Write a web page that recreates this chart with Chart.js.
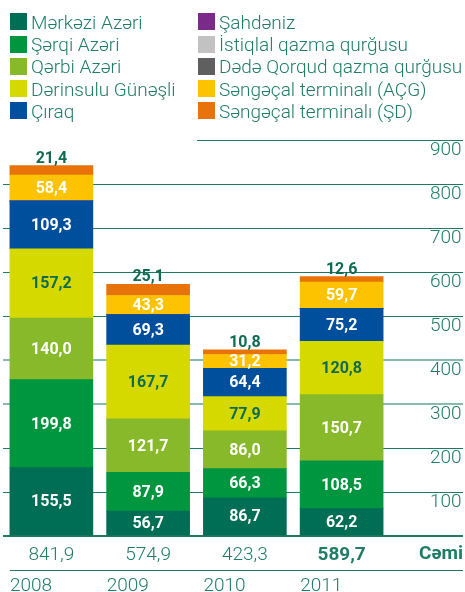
<!DOCTYPE html>
<html lang="az">
<head>
<meta charset="UTF-8">
<title>Hasilat</title>
<script src="https://cdn.jsdelivr.net/npm/chart.js"></script>
<style>
  body { margin: 0; background: #ffffff; }
  .wrap { position: relative; width: 465px; height: 592px; overflow: hidden; }
  canvas { position: absolute; left: 0; top: 0; }
  #legend {
      position: absolute;
      left: 10px;
      top: 11.8px;
      display: grid;
      grid-template-columns: 188px auto;
      grid-template-rows: repeat(5, 22.3px);
      grid-auto-flow: column;
      font-family: 'Roboto', sans-serif;
      font-weight: 300;
      font-size: 19px;
      line-height: 22px;
      color: #1f7d65;
      white-space: nowrap;
  }
  .item { display: flex; align-items: flex-start; }
  .box { width: 17px; height: 17px; margin-top: 1.5px; margin-right: 4px; flex: none; }
</style>
</head>
<body>
<div class="wrap">
  <canvas id="chart" width="465" height="592"></canvas>
  <div id="legend"></div>
</div>
<script>
// illər və cəmi
const categories = ['2008', '2009', '2010', '2011'];
const totals = ['841,9', '574,9', '423,3', '589,7'];
const totalTitle = 'Cəmi';
const yTicks = [0, 100, 200, 300, 400, 500, 600, 700, 800, 900];

// seriyalar (aşağıdan yuxarı)
const seriesNames = [
  'Mərkəzi Azəri', 'Şərqi Azəri', 'Qərbi Azəri', 'Dərinsulu Günəşli', 'Çıraq',
  'Şahdəniz', 'İstiqlal qazma qurğusu', 'Dədə Qorqud qazma qurğusu',
  'Səngəçal terminalı (AÇG)', 'Səngəçal terminalı (ŞD)'
];
const merkeziAzeri = [155.5, 56.7, 86.7, 62.2];
const serqiAzeri = [199.8, 87.9, 66.3, 108.5];
const qerbiAzeri = [140.0, 121.7, 86.0, 150.7];
const derinsuluGunesli = [157.2, 167.7, 77.9, 120.8];
const ciraq = [109.3, 69.3, 64.4, 75.2];
const sahdeniz = [0, 0, 0, 0];
const istiqlal = [0, 0, 0, 0];
const dedeQorqud = [0, 0, 0, 0];
const sengecalAcg = [58.4, 43.3, 31.2, 59.7];
const sengecalSd = [21.4, 25.1, 10.8, 12.6];

const teal = '#1f7d65';
const darkTeal = '#0e6b52';
const colors = ['#006e54', '#00963f', '#87b92a', '#d5d900', '#004f9c',
                '#7a2a88', '#c2c2c2', '#5f5f5f', '#fdc300', '#e8730a'];
const labelColors = ['#fff', '#fff', '#fff', darkTeal, '#fff', '#fff', '#333', '#fff', '#fff', darkTeal];
const values = [merkeziAzeri, serqiAzeri, qerbiAzeri, derinsuluGunesli, ciraq,
                sahdeniz, istiqlal, dedeQorqud, sengecalAcg, sengecalSd];

const fmt = v => v.toFixed(1).replace('.', ',');

// qiymət yazıları
const valueLabels = {
  id: 'valueLabels',
  afterDatasetsDraw(chart) {
    const ctx = chart.ctx;
    const last = chart.data.datasets.length - 1;
    ctx.save();
    ctx.font = '700 16px Roboto, sans-serif';
    ctx.textAlign = 'center';
    ctx.textBaseline = 'middle';
    chart.data.datasets.forEach((ds, di) => {
      chart.getDatasetMeta(di).data.forEach((bar, i) => {
        const v = ds.data[i];
        if (!v) return;
        let y;
        if (di === last) {
          y = bar.y - 7;
          ctx.fillStyle = darkTeal;
        } else {
          y = (bar.y + bar.base) / 2 + 1;
          ctx.fillStyle = labelColors[di];
        }
        ctx.fillText(fmt(v), bar.x, y);
      });
    });
    ctx.restore();
  }
};

// 900 xətti, cəmi və illər
const extras = {
  id: 'extras',
  beforeDatasetsDraw(chart) {
    const ctx = chart.ctx;
    const y = Math.round(chart.scales.y.getPixelForValue(900)) + 0.5;
    ctx.save();
    ctx.strokeStyle = '#1b7a61';
    ctx.lineWidth = 1;
    ctx.beginPath();
    ctx.moveTo(197, y);
    ctx.lineTo(463, y);
    ctx.stroke();
    ctx.restore();
  },
  afterDraw(chart) {
    const ctx = chart.ctx;
    const xs = chart.scales.x;
    const bars = chart.getDatasetMeta(0).data;
    ctx.save();
    ctx.fillStyle = teal;
    ctx.textBaseline = 'middle';
    ctx.textAlign = 'center';
    totals.forEach((t, i) => {
      ctx.font = (i === totals.length - 1 ? '700' : '300') + ' 19px Roboto, sans-serif';
      ctx.fillText(t, xs.getPixelForValue(i), 555);
    });
    ctx.font = '700 19px Roboto, sans-serif';
    ctx.textAlign = 'right';
    ctx.fillText(totalTitle, 463, 554);

    ctx.strokeStyle = '#1b7a61';
    ctx.lineWidth = 1;
    ctx.beginPath();
    ctx.moveTo(10, 570.5);
    ctx.lineTo(463, 570.5);
    ctx.stroke();

    ctx.font = '300 19px Roboto, sans-serif';
    ctx.textAlign = 'left';
    ctx.textBaseline = 'alphabetic';
    categories.forEach((c, i) => {
      const b = bars[i];
      ctx.fillText(c, b.x - b.width / 2, 591);
    });
    ctx.restore();
  }
};

const chart = new Chart(document.getElementById('chart'), {
  type: 'bar',
  data: {
    labels: categories,
    datasets: values.map((d, i) => ({
      label: seriesNames[i],
      data: d,
      backgroundColor: colors[i],
      borderWidth: 0,
      barThickness: 83
    }))
  },
  options: {
    responsive: false,
    animation: false,
    devicePixelRatio: 1,
    layout: { padding: { top: 140, bottom: 56, left: 3, right: 0 } },
    plugins: {
      legend: { display: false },
      tooltip: { enabled: false }
    },
    scales: {
      x: { stacked: true, display: false },
      y: {
        stacked: true,
        position: 'right',
        min: 0,
        max: 900,
        afterBuildTicks: s => { s.ticks = yTicks.map(v => ({ value: v })); },
        afterFit: s => { s.width = 75; },
        border: { display: false },
        grid: {
          drawTicks: true,
          tickLength: 73,
          color: c => {
            const v = c.tick.value;
            if (v === 900) return 'rgba(0,0,0,0)';
            if (v === 300 || v === 400) return '#86bcae';
            return '#1b7a61';
          },
          lineWidth: c => (c.tick.value === 0 ? 2 : (c.tick.value === 300 || c.tick.value === 400 ? 2 : 1))
        },
        ticks: {
          callback: v => (v === 0 ? '' : v),
          color: teal,
          font: { family: 'Roboto', size: 19, weight: '300' },
          crossAlign: 'near',
          padding: -33,
          labelOffset: 10
        }
      }
    }
  },
  plugins: [valueLabels, extras]
});

// legend
const legend = document.getElementById('legend');
chart.data.datasets.forEach(ds => {
  const item = document.createElement('div');
  item.className = 'item';
  const box = document.createElement('span');
  box.className = 'box';
  box.style.background = ds.backgroundColor;
  const txt = document.createElement('span');
  txt.textContent = ds.label;
  item.appendChild(box);
  item.appendChild(txt);
  legend.appendChild(item);
});
</script>
</body>
</html>
